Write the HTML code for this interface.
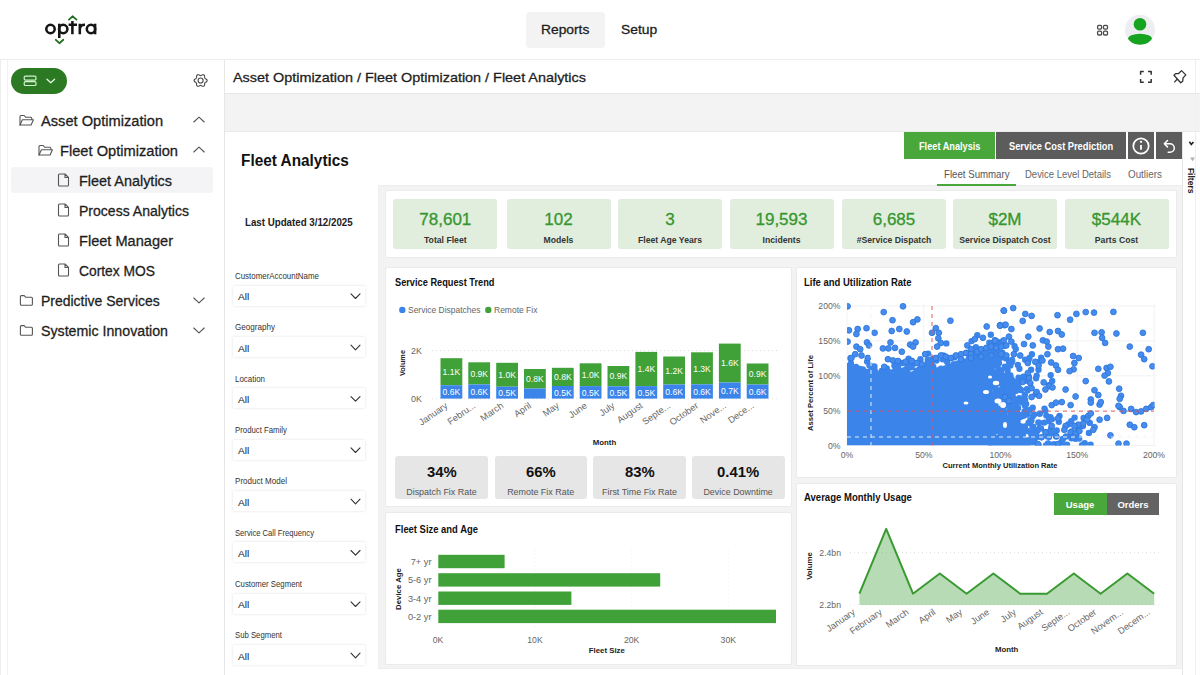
<!DOCTYPE html>
<html lang="en"><head><meta charset="utf-8"><title>Optra - Fleet Analytics</title>
<style>
*{box-sizing:border-box;margin:0;padding:0}
html,body{width:1200px;height:675px;overflow:hidden;background:#fff}
body{position:relative;font-family:"Liberation Sans",sans-serif;color:#222}
.t{position:absolute;white-space:nowrap;display:block}
.abs{position:absolute}
svg{position:absolute;left:0;top:0;overflow:visible}
svg text{font-family:"Liberation Sans",sans-serif}
.kpi{position:absolute;top:198.5px;height:50.5px;background:#e1eede;border-radius:3px}
.gk{position:absolute;top:456.2px;height:43.3px;background:#e6e6e6;border-radius:3px}
.card{position:absolute;background:#fff;border:1px solid #ebebeb;border-radius:2px}
.dd{position:absolute;left:233px;width:132px;height:20px;background:#fff;box-shadow:0 0 2.5px rgba(0,0,0,.13)}
</style></head><body>

<header class="abs" style="left:0;top:0;width:1200px;height:60px;background:#fff;border-bottom:1px solid #ececec;box-shadow:0 0 2px rgba(0,0,0,.07)"></header>
<div class="abs" style="left:0;top:60px;width:8px;height:615px;background:#fff;border-left:1px solid #ededed;border-right:1px solid #f2f2f2"></div>
<nav class="abs" style="left:8px;top:60px;width:217px;height:615px;background:#fff;border-right:1px solid #e6e6e6"></nav>
<div class="abs" style="left:225px;top:60px;width:975px;height:34px;background:#fff;border-bottom:1px solid #e8e8e8"></div>
<div class="abs" style="left:225px;top:94px;width:975px;height:38px;background:#f3f3f3;border-bottom:1px solid #e9e9e9"></div>
<main class="abs" style="left:225px;top:132px;width:957px;height:543px;background:#fff"></main>
<aside class="abs" style="left:1181.5px;top:132px;width:18.5px;height:543px;background:#fff;border-left:1px solid #e6e6e6"></aside>
<div class="abs" style="left:1195px;top:60px;width:1px;height:615px;background:#efefef"></div>
<div class="abs" style="left:377.5px;top:184.5px;width:804.5px;height:484px;background:#f3f3f3;border-top:1px solid #ededed;border-left:1px solid #efefef;border-bottom:1px solid #efefef"></div>
<section class="card" style="left:384.5px;top:189.5px;width:792px;height:68px"></section>
<section class="card" style="left:385px;top:266.5px;width:407px;height:240px"></section>
<section class="card" style="left:385px;top:512px;width:407px;height:152.500px"></section>
<section class="card" style="left:795.5px;top:266.5px;width:381px;height:211.500px"></section>
<section class="card" style="left:795.5px;top:483px;width:381px;height:182.500px"></section>
<div class="abs" style="left:526px;top:12px;width:79px;height:36px;background:#f3f3f3;border-radius:4px"></div>
<span class="t" style="left:541.30px;top:17px;font-size:13.27px;line-height:25px;color:#1c1c1c;transform:scaleX(1.0396);transform-origin:left top;-webkit-text-stroke:.28px currentColor;">Reports</span>
<span class="t" style="left:621.00px;top:17px;font-size:13.27px;line-height:25px;color:#1c1c1c;transform:scaleX(1.0440);transform-origin:left top;-webkit-text-stroke:.28px currentColor;">Setup</span>
<div class="abs" style="left:11px;top:68px;width:56px;height:25.5px;background:#2b7a23;border-radius:13px"></div>
<div class="abs" style="left:11px;top:167px;width:202px;height:26px;background:#f4f4f6;border-radius:3px"></div>
<span class="t" style="left:41.00px;top:109px;font-size:13.97px;line-height:24px;color:#1e1e1e;transform:scaleX(1.0478);transform-origin:left top;-webkit-text-stroke:.28px currentColor;">Asset Optimization</span>
<span class="t" style="left:60.00px;top:139px;font-size:13.97px;line-height:24px;color:#1e1e1e;transform:scaleX(1.0484);transform-origin:left top;-webkit-text-stroke:.28px currentColor;">Fleet Optimization</span>
<span class="t" style="left:79.00px;top:169px;font-size:13.97px;line-height:24px;color:#1e1e1e;transform:scaleX(1.0328);transform-origin:left top;-webkit-text-stroke:.28px currentColor;">Fleet Analytics</span>
<span class="t" style="left:79.00px;top:199px;font-size:13.97px;line-height:24px;color:#1e1e1e;transform:scaleX(1.0050);transform-origin:left top;-webkit-text-stroke:.28px currentColor;">Process Analytics</span>
<span class="t" style="left:79.00px;top:229px;font-size:13.97px;line-height:24px;color:#1e1e1e;transform:scaleX(1.0438);transform-origin:left top;-webkit-text-stroke:.28px currentColor;">Fleet Manager</span>
<span class="t" style="left:79.00px;top:259px;font-size:13.97px;line-height:24px;color:#1e1e1e;transform:scaleX(0.9892);transform-origin:left top;-webkit-text-stroke:.28px currentColor;">Cortex MOS</span>
<span class="t" style="left:41.00px;top:289px;font-size:13.97px;line-height:24px;color:#1e1e1e;-webkit-text-stroke:.28px currentColor;">Predictive Services</span>
<span class="t" style="left:41.00px;top:319px;font-size:13.97px;line-height:24px;color:#1e1e1e;transform:scaleX(1.0161);transform-origin:left top;-webkit-text-stroke:.28px currentColor;">Systemic Innovation</span>
<span class="t" style="left:233.00px;top:65px;font-size:13.41px;line-height:25px;color:#1e1e1e;transform:scaleX(1.0742);transform-origin:left top;-webkit-text-stroke:.28px currentColor;">Asset Optimization / Fleet Optimization / Fleet Analytics</span>
<span class="t" style="left:241.00px;top:148px;font-size:15.78px;line-height:25px;color:#111;font-weight:700;transform:scaleX(0.9747);transform-origin:left top;">Fleet Analytics</span>
<span class="t" style="left:245.30px;top:210px;font-size:10.20px;line-height:25px;color:#222;font-weight:700;transform:scaleX(0.9550);transform-origin:left top;">Last Updated 3/12/2025</span>
<div class="abs" style="left:904px;top:132.3px;width:91.2px;height:26.7px;background:#49a73c"></div>
<div class="abs" style="left:996.3px;top:132.3px;width:129.6px;height:26.7px;background:#5c5c5c"></div>
<div class="abs" style="left:1127.5px;top:132.3px;width:26.4px;height:26.7px;background:#5c5c5c"></div>
<div class="abs" style="left:1155.5px;top:132.3px;width:26px;height:26.7px;background:#5c5c5c"></div>
<span class="t" style="left:919.00px;top:134px;font-size:10.06px;line-height:25px;color:#fff;font-weight:700;transform:scaleX(0.9144);transform-origin:left top;">Fleet Analysis</span>
<span class="t" style="left:1009.00px;top:134px;font-size:10.06px;line-height:25px;color:#fff;font-weight:700;transform:scaleX(0.9239);transform-origin:left top;">Service Cost Prediction</span>
<span class="t" style="left:943.70px;top:162px;font-size:10.34px;line-height:25px;color:#555;transform:scaleX(0.9362);transform-origin:left top;">Fleet Summary</span>
<span class="t" style="left:1025.00px;top:162px;font-size:10.34px;line-height:25px;color:#666;transform:scaleX(0.9185);transform-origin:left top;">Device Level Details</span>
<span class="t" style="left:1127.70px;top:162px;font-size:10.34px;line-height:25px;color:#666;transform:scaleX(0.9520);transform-origin:left top;">Outliers</span>
<div class="abs" style="left:937px;top:184px;width:79px;height:2px;background:#4aa63c"></div>
<span class="t" style="left:235.00px;top:264px;font-size:8.52px;line-height:24px;color:#333;transform:scaleX(0.9288);transform-origin:left top;">CustomerAccountName</span>
<div class="dd" style="top:285.6px"></div>
<span class="t" style="left:237.70px;top:284px;font-size:9.78px;line-height:25px;color:#222;transform:scaleX(1.0400);transform-origin:left top;">All</span>
<span class="t" style="left:235.00px;top:315px;font-size:8.52px;line-height:24px;color:#333;transform:scaleX(0.9489);transform-origin:left top;">Geography</span>
<div class="dd" style="top:336.9px"></div>
<span class="t" style="left:237.70px;top:336px;font-size:9.78px;line-height:25px;color:#222;transform:scaleX(1.0400);transform-origin:left top;">All</span>
<span class="t" style="left:235.00px;top:367px;font-size:8.52px;line-height:24px;color:#333;transform:scaleX(0.9314);transform-origin:left top;">Location</span>
<div class="dd" style="top:388.3px"></div>
<span class="t" style="left:237.70px;top:387px;font-size:9.78px;line-height:25px;color:#222;transform:scaleX(1.0400);transform-origin:left top;">All</span>
<span class="t" style="left:235.00px;top:418px;font-size:8.52px;line-height:24px;color:#333;transform:scaleX(0.9153);transform-origin:left top;">Product Family</span>
<div class="dd" style="top:439.6px"></div>
<span class="t" style="left:237.70px;top:438px;font-size:9.78px;line-height:25px;color:#222;transform:scaleX(1.0400);transform-origin:left top;">All</span>
<span class="t" style="left:235.00px;top:469px;font-size:8.52px;line-height:24px;color:#333;transform:scaleX(0.9466);transform-origin:left top;">Product Model</span>
<div class="dd" style="top:490.9px"></div>
<span class="t" style="left:237.70px;top:490px;font-size:9.78px;line-height:25px;color:#222;transform:scaleX(1.0400);transform-origin:left top;">All</span>
<span class="t" style="left:235.00px;top:521px;font-size:8.52px;line-height:24px;color:#333;transform:scaleX(0.8970);transform-origin:left top;">Service Call Frequency</span>
<div class="dd" style="top:542.2px"></div>
<span class="t" style="left:237.70px;top:541px;font-size:9.78px;line-height:25px;color:#222;transform:scaleX(1.0400);transform-origin:left top;">All</span>
<span class="t" style="left:235.00px;top:572px;font-size:8.52px;line-height:24px;color:#333;transform:scaleX(0.9129);transform-origin:left top;">Customer Segment</span>
<div class="dd" style="top:593.6px"></div>
<span class="t" style="left:237.70px;top:592px;font-size:9.78px;line-height:25px;color:#222;transform:scaleX(1.0400);transform-origin:left top;">All</span>
<span class="t" style="left:235.00px;top:623px;font-size:8.52px;line-height:24px;color:#333;transform:scaleX(0.9104);transform-origin:left top;">Sub Segment</span>
<div class="dd" style="top:644.9px"></div>
<span class="t" style="left:237.70px;top:644px;font-size:9.78px;line-height:25px;color:#222;transform:scaleX(1.0400);transform-origin:left top;">All</span>
<div class="kpi" style="left:393.3px;width:104px"></div>
<span class="t" style="left:419.24px;top:207px;font-size:17.04px;line-height:25px;color:#37962f;-webkit-text-stroke:.3px #37962f;">78,601</span>
<span class="t" style="left:423.97px;top:228px;font-size:8.66px;line-height:24px;color:#333;font-weight:700;">Total Fleet</span>
<div class="kpi" style="left:506.5px;width:104px"></div>
<span class="t" style="left:544.28px;top:207px;font-size:17.04px;line-height:25px;color:#37962f;-webkit-text-stroke:.3px #37962f;">102</span>
<span class="t" style="left:543.58px;top:228px;font-size:8.66px;line-height:24px;color:#333;font-weight:700;">Models</span>
<div class="kpi" style="left:618px;width:104px"></div>
<span class="t" style="left:665.26px;top:207px;font-size:17.04px;line-height:25px;color:#37962f;-webkit-text-stroke:.3px #37962f;">3</span>
<span class="t" style="left:637.99px;top:228px;font-size:8.66px;line-height:24px;color:#333;font-weight:700;">Fleet Age Years</span>
<div class="kpi" style="left:729.5px;width:104px"></div>
<span class="t" style="left:755.44px;top:207px;font-size:17.04px;line-height:25px;color:#37962f;-webkit-text-stroke:.3px #37962f;">19,593</span>
<span class="t" style="left:762.49px;top:228px;font-size:8.66px;line-height:24px;color:#333;font-weight:700;">Incidents</span>
<div class="kpi" style="left:842px;width:104px"></div>
<span class="t" style="left:872.68px;top:207px;font-size:17.04px;line-height:25px;color:#37962f;-webkit-text-stroke:.3px #37962f;">6,685</span>
<span class="t" style="left:856.70px;top:228px;font-size:8.66px;line-height:24px;color:#333;font-weight:700;">#Service Dispatch</span>
<div class="kpi" style="left:953px;width:104px"></div>
<span class="t" style="left:988.43px;top:207px;font-size:17.04px;line-height:25px;color:#37962f;-webkit-text-stroke:.3px #37962f;">$2M</span>
<span class="t" style="left:959.28px;top:228px;font-size:8.66px;line-height:24px;color:#333;font-weight:700;">Service Dispatch Cost</span>
<div class="kpi" style="left:1064.5px;width:104px"></div>
<span class="t" style="left:1091.86px;top:207px;font-size:17.04px;line-height:25px;color:#37962f;-webkit-text-stroke:.3px #37962f;">$544K</span>
<span class="t" style="left:1094.84px;top:228px;font-size:8.66px;line-height:24px;color:#333;font-weight:700;">Parts Cost</span>
<span class="t" style="left:395.00px;top:270px;font-size:10.34px;line-height:25px;color:#111;font-weight:700;transform:scaleX(0.8929);transform-origin:left top;">Service Request Trend</span>
<span class="t" style="left:408.00px;top:297px;font-size:9.78px;line-height:25px;color:#666;transform:scaleX(0.8664);transform-origin:left top;">Service Dispatches</span>
<span class="t" style="left:494.00px;top:297px;font-size:9.78px;line-height:25px;color:#666;transform:scaleX(0.8703);transform-origin:left top;">Remote Fix</span>
<div class="gk" style="left:395.3px;width:92.5px"></div>
<span class="t" style="left:426.65px;top:460px;font-size:13.97px;line-height:24px;color:#111;font-weight:700;transform:scaleX(1.0625);transform-origin:left top;">34%</span>
<span class="t" style="left:406.23px;top:480px;font-size:8.94px;line-height:24px;color:#555;">Dispatch Fix Rate</span>
<div class="gk" style="left:494.5px;width:92.5px"></div>
<span class="t" style="left:525.85px;top:460px;font-size:13.97px;line-height:24px;color:#111;font-weight:700;transform:scaleX(1.0625);transform-origin:left top;">66%</span>
<span class="t" style="left:507.17px;top:480px;font-size:8.94px;line-height:24px;color:#555;">Remote Fix Rate</span>
<div class="gk" style="left:593.3px;width:92.5px"></div>
<span class="t" style="left:624.65px;top:460px;font-size:13.97px;line-height:24px;color:#111;font-weight:700;transform:scaleX(1.0625);transform-origin:left top;">83%</span>
<span class="t" style="left:602.00px;top:480px;font-size:8.94px;line-height:24px;color:#555;">First Time Fix Rate</span>
<div class="gk" style="left:692px;width:92.5px"></div>
<span class="t" style="left:717.16px;top:460px;font-size:13.97px;line-height:24px;color:#111;font-weight:700;transform:scaleX(1.0625);transform-origin:left top;">0.41%</span>
<span class="t" style="left:703.43px;top:480px;font-size:8.94px;line-height:24px;color:#555;">Device Downtime</span>
<span class="t" style="left:395.00px;top:517px;font-size:10.34px;line-height:25px;color:#111;font-weight:700;transform:scaleX(0.9127);transform-origin:left top;">Fleet Size and Age</span>
<span class="t" style="left:803.70px;top:270px;font-size:10.34px;line-height:25px;color:#111;font-weight:700;transform:scaleX(0.9185);transform-origin:left top;">Life and Utilization Rate</span>
<span class="t" style="left:803.70px;top:485px;font-size:10.34px;line-height:25px;color:#111;font-weight:700;transform:scaleX(0.9239);transform-origin:left top;">Average Monthly Usage</span>
<div class="abs" style="left:1054px;top:493px;width:53px;height:22px;background:#49a73c"></div>
<div class="abs" style="left:1107px;top:493px;width:52px;height:22px;background:#636363"></div>
<span class="t" style="left:1065.75px;top:492px;font-size:9.50px;line-height:25px;color:#fff;font-weight:700;">Usage</span>
<span class="t" style="left:1117.43px;top:492px;font-size:9.50px;line-height:25px;color:#fff;font-weight:700;">Orders</span>
<svg width="1200" height="675" viewBox="0 0 1200 675">
<line x1="432" x2="779" y1="350.6" y2="350.6" stroke="#d8d8d8" stroke-width="1" stroke-dasharray="1 3"/>
<line x1="432" x2="779" y1="398.8" y2="398.8" stroke="#e4e4e4" stroke-width="1" stroke-dasharray="1 3"/>
<rect x="440.5" y="358.2" width="21.8" height="27.0" fill="#41a139"/>
<rect x="440.5" y="385.2" width="21.8" height="13.4" fill="#3b85ea"/>
<text x="451.4" y="374.9" font-size="8.94" fill="#fff" text-anchor="middle" textLength="17.6" lengthAdjust="spacingAndGlyphs">1.1K</text>
<text x="451.4" y="395.3" font-size="8.94" fill="#fff" text-anchor="middle" textLength="17.6" lengthAdjust="spacingAndGlyphs">0.6K</text>
<text x="448.4" y="407.0" font-size="9.22" fill="#666" text-anchor="end" transform="rotate(-35 448.4 407.0)">January</text>
<rect x="468.3" y="362.3" width="21.8" height="22.1" fill="#41a139"/>
<rect x="468.3" y="384.4" width="21.8" height="14.2" fill="#3b85ea"/>
<text x="479.2" y="376.6" font-size="8.94" fill="#fff" text-anchor="middle" textLength="17.6" lengthAdjust="spacingAndGlyphs">0.9K</text>
<text x="479.2" y="394.9" font-size="8.94" fill="#fff" text-anchor="middle" textLength="17.6" lengthAdjust="spacingAndGlyphs">0.6K</text>
<text x="476.2" y="407.0" font-size="9.22" fill="#666" text-anchor="end" transform="rotate(-35 476.2 407.0)">Febru...</text>
<rect x="496.2" y="362.8" width="21.8" height="23.9" fill="#41a139"/>
<rect x="496.2" y="386.7" width="21.8" height="11.9" fill="#3b85ea"/>
<text x="507.1" y="377.9" font-size="8.94" fill="#fff" text-anchor="middle" textLength="17.6" lengthAdjust="spacingAndGlyphs">1.0K</text>
<text x="507.1" y="396.0" font-size="8.94" fill="#fff" text-anchor="middle" textLength="17.6" lengthAdjust="spacingAndGlyphs">0.5K</text>
<text x="504.1" y="407.0" font-size="9.22" fill="#666" text-anchor="end" transform="rotate(-35 504.1 407.0)">March</text>
<rect x="524.0" y="369" width="21.8" height="19.5" fill="#41a139"/>
<rect x="524.0" y="388.5" width="21.8" height="10.1" fill="#3b85ea"/>
<text x="534.9" y="381.9" font-size="8.94" fill="#fff" text-anchor="middle" textLength="17.6" lengthAdjust="spacingAndGlyphs">0.8K</text>
<text x="531.9" y="407.0" font-size="9.22" fill="#666" text-anchor="end" transform="rotate(-35 531.9 407.0)">April</text>
<rect x="551.9" y="367.8" width="21.8" height="18.2" fill="#41a139"/>
<rect x="551.9" y="386" width="21.8" height="12.6" fill="#3b85ea"/>
<text x="562.8" y="380.1" font-size="8.94" fill="#fff" text-anchor="middle" textLength="17.6" lengthAdjust="spacingAndGlyphs">0.8K</text>
<text x="562.8" y="395.7" font-size="8.94" fill="#fff" text-anchor="middle" textLength="17.6" lengthAdjust="spacingAndGlyphs">0.5K</text>
<text x="559.8" y="407.0" font-size="9.22" fill="#666" text-anchor="end" transform="rotate(-35 559.8 407.0)">May</text>
<rect x="579.7" y="363.3" width="21.8" height="22.8" fill="#41a139"/>
<rect x="579.7" y="386.1" width="21.8" height="12.5" fill="#3b85ea"/>
<text x="590.6" y="377.9" font-size="8.94" fill="#fff" text-anchor="middle" textLength="17.6" lengthAdjust="spacingAndGlyphs">1.0K</text>
<text x="590.6" y="395.8" font-size="8.94" fill="#fff" text-anchor="middle" textLength="17.6" lengthAdjust="spacingAndGlyphs">0.5K</text>
<text x="587.6" y="407.0" font-size="9.22" fill="#666" text-anchor="end" transform="rotate(-35 587.6 407.0)">June</text>
<rect x="607.5" y="366" width="21.8" height="20.3" fill="#41a139"/>
<rect x="607.5" y="386.3" width="21.8" height="12.3" fill="#3b85ea"/>
<text x="618.4" y="379.3" font-size="8.94" fill="#fff" text-anchor="middle" textLength="17.6" lengthAdjust="spacingAndGlyphs">0.9K</text>
<text x="618.4" y="395.9" font-size="8.94" fill="#fff" text-anchor="middle" textLength="17.6" lengthAdjust="spacingAndGlyphs">0.5K</text>
<text x="615.4" y="407.0" font-size="9.22" fill="#666" text-anchor="end" transform="rotate(-35 615.4 407.0)">July</text>
<rect x="635.4" y="351.9" width="21.8" height="34.2" fill="#41a139"/>
<rect x="635.4" y="386.1" width="21.8" height="12.5" fill="#3b85ea"/>
<text x="646.3" y="372.2" font-size="8.94" fill="#fff" text-anchor="middle" textLength="17.6" lengthAdjust="spacingAndGlyphs">1.4K</text>
<text x="646.3" y="395.8" font-size="8.94" fill="#fff" text-anchor="middle" textLength="17.6" lengthAdjust="spacingAndGlyphs">0.5K</text>
<text x="643.3" y="407.0" font-size="9.22" fill="#666" text-anchor="end" transform="rotate(-35 643.3 407.0)">August</text>
<rect x="663.2" y="356.5" width="21.8" height="28.0" fill="#41a139"/>
<rect x="663.2" y="384.5" width="21.8" height="14.1" fill="#3b85ea"/>
<text x="674.1" y="373.7" font-size="8.94" fill="#fff" text-anchor="middle" textLength="17.6" lengthAdjust="spacingAndGlyphs">1.2K</text>
<text x="674.1" y="394.9" font-size="8.94" fill="#fff" text-anchor="middle" textLength="17.6" lengthAdjust="spacingAndGlyphs">0.6K</text>
<text x="671.1" y="407.0" font-size="9.22" fill="#666" text-anchor="end" transform="rotate(-35 671.1 407.0)">Septe...</text>
<rect x="691.1" y="352.3" width="21.8" height="32.0" fill="#41a139"/>
<rect x="691.1" y="384.3" width="21.8" height="14.3" fill="#3b85ea"/>
<text x="702.0" y="371.5" font-size="8.94" fill="#fff" text-anchor="middle" textLength="17.6" lengthAdjust="spacingAndGlyphs">1.3K</text>
<text x="702.0" y="394.9" font-size="8.94" fill="#fff" text-anchor="middle" textLength="17.6" lengthAdjust="spacingAndGlyphs">0.6K</text>
<text x="699.0" y="407.0" font-size="9.22" fill="#666" text-anchor="end" transform="rotate(-35 699.0 407.0)">October</text>
<rect x="718.9" y="343.6" width="21.8" height="38.9" fill="#41a139"/>
<rect x="718.9" y="382.5" width="21.8" height="16.1" fill="#3b85ea"/>
<text x="729.8" y="366.2" font-size="8.94" fill="#fff" text-anchor="middle" textLength="17.6" lengthAdjust="spacingAndGlyphs">1.6K</text>
<text x="729.8" y="393.9" font-size="8.94" fill="#fff" text-anchor="middle" textLength="17.6" lengthAdjust="spacingAndGlyphs">0.7K</text>
<text x="726.8" y="407.0" font-size="9.22" fill="#666" text-anchor="end" transform="rotate(-35 726.8 407.0)">Nove...</text>
<rect x="746.7" y="363.5" width="21.8" height="21.0" fill="#41a139"/>
<rect x="746.7" y="384.5" width="21.8" height="14.1" fill="#3b85ea"/>
<text x="757.6" y="377.2" font-size="8.94" fill="#fff" text-anchor="middle" textLength="17.6" lengthAdjust="spacingAndGlyphs">0.9K</text>
<text x="757.6" y="394.9" font-size="8.94" fill="#fff" text-anchor="middle" textLength="17.6" lengthAdjust="spacingAndGlyphs">0.6K</text>
<text x="754.6" y="407.0" font-size="9.22" fill="#666" text-anchor="end" transform="rotate(-35 754.6 407.0)">Dece...</text>
<text x="422.0" y="354.0" font-size="8.94" fill="#666" text-anchor="end">2K</text>
<text x="422.0" y="402.3" font-size="8.94" fill="#666" text-anchor="end">0K</text>
<text x="405.0" y="363.0" font-size="8.10" fill="#222" text-anchor="middle" textLength="26.0" lengthAdjust="spacingAndGlyphs" transform="rotate(-90 405.0 363.0)" font-weight="700">Volume</text>
<text x="604.5" y="445.0" font-size="7.82" fill="#222" text-anchor="middle" font-weight="700">Month</text>
<circle cx="402.3" cy="309.9" r="3.2" fill="#3b85ea"/><circle cx="488.3" cy="309.9" r="3.2" fill="#41a139"/>
<line x1="535" x2="535" y1="550" y2="628" stroke="#eeeeee" stroke-width="1" stroke-dasharray="1 3"/>
<line x1="631.7" x2="631.7" y1="550" y2="628" stroke="#eeeeee" stroke-width="1" stroke-dasharray="1 3"/>
<line x1="728.3" x2="728.3" y1="550" y2="628" stroke="#eeeeee" stroke-width="1" stroke-dasharray="1 3"/>
<rect x="438.3" y="554.8" width="66.3" height="13.4" fill="#41a139"/>
<text x="431.5" y="564.8" font-size="9.22" fill="#666" text-anchor="end">7+ yr</text>
<rect x="438.3" y="573.2" width="221.9" height="13.4" fill="#41a139"/>
<text x="431.5" y="583.2" font-size="9.22" fill="#666" text-anchor="end">5-6 yr</text>
<rect x="438.3" y="591.5" width="133.1" height="13.4" fill="#41a139"/>
<text x="431.5" y="601.5" font-size="9.22" fill="#666" text-anchor="end">3-4 yr</text>
<rect x="438.3" y="609.7" width="337.7" height="13.4" fill="#41a139"/>
<text x="431.5" y="619.7" font-size="9.22" fill="#666" text-anchor="end">0-2 yr</text>
<text x="438.0" y="642.8" font-size="8.66" fill="#666" text-anchor="middle">0K</text>
<text x="535.0" y="642.8" font-size="8.66" fill="#666" text-anchor="middle">10K</text>
<text x="631.7" y="642.8" font-size="8.66" fill="#666" text-anchor="middle">20K</text>
<text x="728.3" y="642.8" font-size="8.66" fill="#666" text-anchor="middle">30K</text>
<text x="606.8" y="652.5" font-size="7.82" fill="#222" text-anchor="middle" font-weight="700">Fleet Size</text>
<text x="400.5" y="589.0" font-size="7.82" fill="#222" text-anchor="middle" transform="rotate(-90 400.5 589.0)" font-weight="700">Device Age</text>
</svg>
<svg width="1200" height="675" viewBox="0 0 1200 675"><defs><clipPath id="pc"><rect x="847" y="300" width="307.600" height="145.500"/></clipPath></defs>
<line x1="847" x2="1156" y1="445.5" y2="445.5" stroke="#f2f2f2" stroke-width="1"/>
<line x1="847" x2="1156" y1="410.6" y2="410.6" stroke="#f2f2f2" stroke-width="1"/>
<line x1="847" x2="1156" y1="375.8" y2="375.8" stroke="#f2f2f2" stroke-width="1"/>
<line x1="847" x2="1156" y1="340.9" y2="340.9" stroke="#f2f2f2" stroke-width="1"/>
<line x1="847" x2="1156" y1="306.0" y2="306.0" stroke="#f2f2f2" stroke-width="1"/>
<line x1="847.0" x2="847.0" y1="304" y2="445.5" stroke="#f2f2f2" stroke-width="1"/>
<line x1="923.8" x2="923.8" y1="304" y2="445.5" stroke="#f2f2f2" stroke-width="1"/>
<line x1="1000.5" x2="1000.5" y1="304" y2="445.5" stroke="#f2f2f2" stroke-width="1"/>
<line x1="1077.2" x2="1077.2" y1="304" y2="445.5" stroke="#f2f2f2" stroke-width="1"/>
<line x1="1154.0" x2="1154.0" y1="304" y2="445.5" stroke="#f2f2f2" stroke-width="1"/>
<g clip-path="url(#pc)">
<path d="M847 445.5V369L872 372 900 373 931 369 950 364 970 357 985 352 992 360 992 445.5Z" fill="#3b85ea"/>
<path d="M896.7 374.1h0M946.9 370.6h0M929.3 372.5h0M855.9 371.1h0M852.8 371.9h0M857.7 374.5h0M912.2 365.3h0M866.0 373.6h0M943.3 355.5h0M935.6 371.1h0M996.9 357.6h0M978.8 360.7h0M869.1 374.4h0M894.4 365.6h0M874.7 370.2h0M945.1 368.9h0M931.1 374.7h0M856.1 373.8h0M951.4 366.7h0M895.2 370.1h0M916.6 373.1h0M968.9 358.5h0M884.5 370.3h0M927.6 363.4h0M959.0 365.9h0M997.5 357.0h0M911.2 367.2h0M870.3 371.3h0M853.0 368.9h0M964.4 361.7h0M981.4 359.8h0M953.7 364.2h0M936.0 370.4h0M975.9 347.2h0M919.8 369.0h0M856.3 368.3h0M946.3 343.4h0M973.2 362.2h0M906.2 368.9h0M850.5 371.6h0M872.8 374.4h0M856.0 366.9h0M866.9 373.5h0M907.0 363.6h0M859.4 371.7h0M931.3 363.1h0M972.8 353.1h0M889.7 372.1h0M902.1 363.0h0M994.0 357.7h0M874.0 373.6h0M882.8 371.4h0M937.4 371.8h0M847.6 372.0h0M903.7 370.4h0M993.3 352.3h0M926.1 369.7h0M950.8 369.7h0M985.1 352.5h0M981.2 353.1h0M907.2 372.2h0M862.9 369.4h0M856.6 374.7h0M879.0 374.1h0M899.2 374.8h0M847.0 374.1h0M862.6 372.5h0M850.9 363.5h0M941.3 371.6h0M885.7 372.7h0M902.9 374.3h0M977.3 335.2h0M918.5 371.4h0M860.2 374.5h0M899.6 373.3h0M974.2 362.8h0M850.5 358.2h0M928.1 374.2h0M930.4 374.9h0M928.1 353.6h0M979.5 355.8h0M887.1 372.5h0M872.6 366.8h0M928.8 366.6h0M897.6 373.6h0M971.6 341.1h0M977.9 353.7h0M972.6 356.7h0M881.8 371.0h0M901.6 374.9h0M851.3 373.2h0M886.8 368.5h0M993.8 355.4h0M990.8 334.8h0M993.6 356.2h0M880.8 373.6h0M877.2 373.8h0M942.8 359.2h0M976.0 359.7h0M947.2 361.9h0M860.0 369.0h0M986.7 352.0h0M962.1 363.4h0M874.4 366.4h0M898.0 366.0h0M996.1 355.2h0M908.6 358.7h0M958.3 367.0h0M866.5 374.1h0M985.9 351.6h0M869.4 365.3h0M997.5 351.7h0M900.8 370.6h0M867.1 375.0h0M996.0 352.2h0M927.8 359.9h0M913.6 363.6h0M973.8 362.6h0M885.7 373.1h0M883.9 370.1h0M886.8 372.0h0M867.1 361.6h0M901.3 371.6h0M936.5 360.6h0M911.6 361.1h0M924.0 370.8h0M927.4 374.9h0M914.6 373.9h0M847.6 366.1h0M873.5 371.5h0M958.3 363.5h0M897.0 371.0h0M932.3 366.3h0M863.3 370.5h0M885.1 373.2h0M965.5 362.1h0M933.2 366.6h0M987.1 357.2h0M941.0 368.6h0M925.6 368.5h0M916.4 370.8h0M920.4 359.2h0M954.3 357.4h0M991.6 357.6h0M932.9 358.7h0M975.9 362.5h0M865.7 371.8h0M858.1 373.5h0M858.2 368.9h0M967.3 352.9h0M1011.6 379.2h0M1013.4 398.1h0M1014.7 444.2h0M997.6 395.4h0M992.0 434.5h0M1008.6 405.0h0M989.0 350.1h0M1003.0 389.1h0M991.7 441.0h0M999.0 376.1h0M997.2 347.9h0M992.8 363.5h0M1032.7 440.2h0M1014.0 413.7h0M989.8 393.8h0M1001.9 423.9h0M1000.2 441.6h0M998.0 427.5h0M1008.8 396.7h0M991.1 422.7h0M992.3 444.4h0M991.7 428.7h0M1021.1 399.4h0M1026.1 403.9h0M1018.1 408.0h0M1012.0 360.0h0M990.9 406.8h0M993.2 434.4h0M995.4 439.8h0M989.4 431.3h0M1008.2 438.6h0M998.4 423.5h0M1006.9 418.4h0M1003.8 421.4h0M990.6 416.7h0M1010.0 396.4h0M1008.3 396.2h0M989.2 407.4h0M999.5 442.3h0M1010.2 424.4h0M991.4 369.2h0M994.3 442.1h0M1025.2 359.7h0M993.1 433.5h0M1035.7 394.1h0M1012.2 360.7h0M1028.8 376.7h0M989.0 434.1h0M994.7 411.4h0M1027.4 390.4h0M1018.6 383.0h0M990.3 363.9h0M988.4 369.5h0M988.8 370.7h0M988.4 421.2h0M992.8 397.3h0M1006.2 384.0h0M1004.2 389.4h0M997.4 420.8h0M988.9 377.9h0M1002.1 418.6h0M1024.8 394.9h0M991.0 343.4h0M992.7 401.1h0M990.1 361.4h0M1016.2 420.9h0M993.9 426.6h0M1000.8 394.1h0M1001.5 353.8h0M1016.4 424.6h0M990.4 397.6h0M988.6 402.0h0M992.8 413.2h0M1001.8 416.0h0M989.0 369.2h0M989.5 359.2h0M1029.0 410.2h0M1001.3 437.0h0M1006.7 421.1h0M997.5 345.9h0M1011.7 362.3h0M988.8 419.1h0M1011.8 417.9h0M992.4 421.7h0M1000.5 390.5h0M1003.4 425.7h0M994.4 423.8h0M997.8 421.9h0M1011.3 394.1h0M993.1 420.0h0M989.0 420.6h0M988.5 402.5h0M1014.6 346.2h0M994.8 373.8h0M989.1 399.6h0M988.6 408.2h0M988.5 349.3h0M1033.9 432.1h0M1027.2 380.7h0M1003.2 401.3h0M990.6 350.1h0M1001.8 434.6h0M1005.8 422.5h0M992.3 439.9h0M1000.3 394.1h0M1001.1 417.5h0M1052.2 381.0h0M1004.3 399.3h0M990.1 345.4h0M1018.6 377.7h0M992.4 422.0h0M1039.8 413.8h0M996.3 425.6h0M1017.4 428.9h0M997.3 378.7h0M1002.1 408.0h0M992.9 426.4h0M1002.5 441.5h0M990.6 440.8h0M1031.9 354.2h0M1028.0 443.1h0M989.2 419.7h0M989.9 412.4h0M991.9 411.8h0M1009.3 403.9h0M1024.8 443.3h0M990.3 369.6h0M1007.3 420.5h0M1002.4 384.0h0M991.4 416.0h0M990.3 382.1h0M991.2 345.8h0M1015.8 349.1h0M1001.2 370.5h0M993.3 414.8h0M1023.5 415.7h0M996.5 440.3h0M1020.6 415.0h0M998.4 396.9h0M994.1 373.7h0M1006.2 405.5h0M994.5 377.7h0M988.9 378.8h0M998.5 423.2h0M1019.1 388.2h0M1032.7 407.7h0M993.8 380.0h0M995.8 418.3h0M1007.2 421.7h0M1001.6 410.6h0M1000.7 433.3h0M993.9 385.9h0M1007.4 380.2h0M989.4 414.9h0M992.0 377.2h0M997.2 427.4h0M1009.3 391.3h0M1003.8 438.0h0M1005.1 356.4h0M1009.4 411.1h0M989.0 352.1h0M990.9 404.8h0M1000.1 383.4h0M1009.5 432.9h0M1011.2 427.9h0M1044.5 408.6h0M992.3 406.8h0M1006.2 358.4h0M995.7 407.3h0M1004.9 394.8h0M998.2 423.0h0M997.2 372.1h0M1015.0 382.9h0M1007.5 405.2h0M1022.4 402.4h0M1005.4 443.8h0M1007.3 367.7h0M989.5 401.2h0M1000.9 436.5h0M999.3 371.1h0M996.9 396.3h0M988.8 409.6h0M1001.7 357.2h0M992.5 371.3h0M1003.9 345.9h0M1000.9 396.5h0M1003.8 421.4h0M996.8 396.0h0M991.2 429.4h0M994.7 431.4h0M1024.6 411.5h0M995.3 388.0h0M997.3 341.7h0M996.5 407.9h0M994.3 342.0h0M1007.8 388.3h0M1016.6 402.9h0M996.7 381.5h0M999.9 445.4h0M1008.9 395.3h0M991.4 445.3h0M992.8 412.0h0M1007.5 425.3h0M1003.4 387.0h0M998.6 399.4h0M995.1 381.7h0M997.7 355.6h0M1004.9 444.7h0M1000.0 380.9h0M1010.6 380.8h0M997.5 348.1h0M988.8 442.1h0M988.9 366.0h0M997.2 444.7h0M1007.7 385.0h0M989.9 416.7h0M990.8 353.5h0M996.0 365.6h0M1038.5 369.8h0M990.2 401.8h0M990.1 424.5h0M1000.4 442.6h0M1010.4 375.4h0M1006.2 381.2h0M992.2 421.7h0M992.0 347.2h0M1031.1 369.7h0M997.4 351.5h0M1005.2 375.6h0M1025.1 400.0h0M1050.7 375.1h0M1026.9 389.1h0M1004.3 426.5h0M995.5 443.5h0M1001.3 375.2h0M1009.1 361.7h0M1001.6 440.2h0M1037.7 362.3h0M999.1 382.4h0M991.0 437.4h0M999.8 444.0h0M1013.1 422.1h0M1005.1 357.8h0M1014.6 403.5h0M993.4 412.9h0M997.3 426.1h0M995.0 445.4h0M1002.7 427.5h0M993.7 445.2h0M993.0 397.3h0M1004.2 412.8h0M1005.9 426.2h0M1000.8 381.8h0M988.4 438.9h0M997.7 365.1h0M1027.4 411.9h0M995.3 427.1h0M992.9 396.6h0M1019.4 368.8h0M996.0 412.7h0M995.2 358.8h0M1005.1 400.8h0M1002.7 428.5h0M1000.9 417.5h0M1002.8 432.1h0M1002.9 431.5h0M1016.3 414.8h0M989.8 345.2h0M1000.2 437.0h0M995.2 443.0h0M1013.1 407.4h0M988.3 385.4h0M997.6 366.6h0M1041.1 357.7h0M1009.9 382.8h0M994.7 405.3h0M996.6 382.6h0M1028.6 422.7h0M1007.6 377.6h0M1013.8 408.5h0M1000.5 394.6h0M1049.0 437.1h0M994.6 381.5h0M1005.2 376.6h0M994.0 408.1h0M989.3 342.7h0M1001.5 412.0h0M995.5 405.4h0M1007.6 370.2h0M991.3 426.5h0M1021.0 390.0h0M1012.0 381.6h0M993.7 361.8h0M1009.6 391.5h0M992.6 359.8h0M988.9 417.5h0M1015.6 381.8h0M991.8 411.2h0M1034.4 441.0h0M1010.4 365.4h0M991.3 444.7h0M991.6 346.4h0M999.2 437.1h0M1004.7 433.2h0M992.9 412.9h0M1033.1 432.3h0M1015.3 384.9h0M1036.0 378.3h0M1000.0 427.9h0M1036.7 375.6h0M989.6 354.3h0M1016.2 390.7h0M989.6 397.4h0M1002.4 440.9h0M1002.5 397.6h0M991.2 396.9h0M1038.6 445.1h0M1001.0 389.9h0M1013.6 409.9h0M1031.3 439.4h0M1023.4 376.8h0M994.6 414.6h0M1019.2 398.3h0M991.8 443.0h0M995.5 413.7h0M1032.4 426.6h0M995.4 390.9h0M1007.5 396.3h0M992.4 343.7h0M1018.9 379.9h0M999.3 417.8h0M1008.1 387.3h0M1018.5 442.5h0M989.1 428.7h0M991.0 349.9h0M1017.9 364.9h0M1012.3 384.0h0M999.8 376.9h0M1021.4 426.5h0M989.2 429.5h0M1000.2 442.7h0M997.1 379.7h0M1045.3 410.6h0M1006.9 417.5h0M995.9 415.8h0M1004.0 389.4h0M991.4 350.2h0M992.4 408.7h0M989.7 386.7h0M990.9 445.2h0M992.0 376.6h0M990.0 441.6h0M1004.9 366.6h0M1014.2 438.6h0M1021.5 400.9h0M989.9 372.9h0M1016.3 439.0h0M1027.3 431.0h0M1011.5 388.6h0M997.4 377.4h0M1016.8 411.2h0M1025.0 405.4h0M1003.7 440.7h0M1028.4 360.6h0M994.8 343.5h0M1006.3 404.3h0M1001.5 409.8h0M1002.3 352.8h0M990.5 387.3h0M1029.5 357.9h0M1008.9 438.5h0M1000.6 427.6h0M988.3 424.3h0M1048.7 385.1h0M1005.6 422.3h0M992.1 364.6h0M999.0 362.9h0M991.0 424.4h0M1014.9 387.0h0M994.1 374.7h0M1003.6 411.2h0M1012.6 394.8h0M998.7 442.1h0M1013.5 436.6h0M988.7 431.9h0M1007.9 394.6h0M1002.0 444.0h0M1003.6 414.5h0M1072.3 435.2h0M1071.2 421.3h0M1023.9 445.1h0M1051.8 419.3h0M1059.5 415.9h0M1004.1 440.2h0M1083.6 417.9h0M1004.8 422.5h0M1013.8 423.7h0M1062.8 439.0h0M1024.2 443.4h0M1016.0 440.6h0M1062.9 445.4h0M1018.5 445.1h0M1020.8 416.8h0M1009.4 417.0h0M1076.3 433.5h0M1014.8 439.7h0M1031.3 442.4h0M1090.6 444.7h0M1062.0 441.3h0M1026.9 440.1h0M1034.1 414.5h0M1083.0 444.7h0M1000.7 420.8h0M1017.6 434.9h0M1017.1 423.1h0M1019.5 428.9h0M1006.6 424.6h0M1067.0 444.8h0M1031.4 420.4h0M1045.9 445.4h0M1017.6 420.8h0M1015.6 436.8h0M1000.9 432.1h0M1048.0 443.5h0M1066.0 436.5h0M1006.1 419.2h0M1046.1 432.3h0M1050.0 445.3h0M1009.4 425.8h0M1002.1 429.4h0M1011.8 433.0h0M1026.3 443.5h0M1013.1 429.6h0M1014.1 430.3h0M1015.6 421.0h0M1036.3 435.3h0M1048.9 436.1h0M1031.4 434.8h0M1074.6 417.6h0M1039.4 428.2h0M1049.4 444.5h0M1089.8 422.9h0M1058.8 421.7h0M1082.0 445.1h0M1025.0 426.5h0M1050.4 417.2h0M1023.6 432.1h0M1060.1 443.5h0M1011.9 443.3h0M1008.6 431.2h0M1056.7 430.4h0M1019.0 425.4h0M1051.0 428.9h0M1029.1 440.5h0M1047.7 436.5h0M1001.6 437.4h0M1022.5 430.8h0M1026.7 414.6h0M1036.2 434.7h0M1010.6 441.0h0M1033.0 426.7h0M1068.5 424.2h0M1044.3 422.6h0M1084.7 443.3h0M1000.9 423.3h0M1046.4 415.6h0M1039.0 422.6h0M1056.4 436.6h0M1036.5 430.9h0M1030.2 422.5h0M1028.5 443.0h0M1054.1 444.2h0M1030.3 420.3h0M1052.5 432.8h0M1071.7 431.5h0M1048.2 432.2h0M1036.4 437.3h0M1032.8 416.2h0M1048.9 443.9h0M1037.4 430.7h0M1041.0 428.5h0M1032.1 431.7h0M1016.2 438.4h0M1082.9 426.1h0M1014.9 439.2h0M1038.4 422.5h0M1078.1 429.8h0M1018.6 432.8h0M1025.0 427.7h0M1011.7 442.7h0M1010.3 443.9h0M1048.6 421.1h0M1071.5 438.3h0M1033.1 442.4h0M1009.7 418.0h0M1032.6 434.4h0M1005.5 418.5h0M1023.5 445.0h0M1079.2 438.5h0M1075.6 438.8h0M1088.9 432.9h0M1022.9 436.3h0M1020.9 438.7h0" stroke="#3b85ea" stroke-width="6.4" stroke-linecap="round" fill="none"/>
<g fill="#468cee" stroke="#2f77dc" stroke-width=".9"><circle cx="1003.9" cy="310.6" r="2.9"/><circle cx="1013.2" cy="308.1" r="2.9"/><circle cx="1025.3" cy="313.9" r="2.9"/><circle cx="1031.6" cy="315.9" r="2.9"/><circle cx="1022.7" cy="320.9" r="2.9"/><circle cx="1057.5" cy="315.2" r="2.9"/><circle cx="1076.4" cy="313.9" r="2.9"/><circle cx="1085.7" cy="312.1" r="2.9"/><circle cx="1094.0" cy="312.6" r="2.9"/><circle cx="1113.4" cy="311.9" r="2.9"/><circle cx="1070.1" cy="319.7" r="2.9"/><circle cx="1000.1" cy="325.2" r="2.9"/><circle cx="1004.6" cy="325.2" r="2.9"/><circle cx="1011.4" cy="329.0" r="2.9"/><circle cx="1039.6" cy="328.5" r="2.9"/><circle cx="1049.7" cy="332.0" r="2.9"/><circle cx="1058.0" cy="331.0" r="2.9"/><circle cx="1061.8" cy="334.5" r="2.9"/><circle cx="1094.5" cy="332.8" r="2.9"/><circle cx="1101.6" cy="332.3" r="2.9"/><circle cx="1102.1" cy="337.8" r="2.9"/><circle cx="1105.1" cy="342.9" r="2.9"/><circle cx="1116.4" cy="333.5" r="2.9"/><circle cx="1142.9" cy="332.8" r="2.9"/><circle cx="995.0" cy="340.3" r="2.9"/><circle cx="1002.6" cy="341.6" r="2.9"/><circle cx="1008.9" cy="336.6" r="2.9"/><circle cx="1011.4" cy="341.6" r="2.9"/><circle cx="1024.0" cy="344.1" r="2.9"/><circle cx="1028.3" cy="336.6" r="2.9"/><circle cx="1032.8" cy="345.4" r="2.9"/><circle cx="1042.9" cy="340.3" r="2.9"/><circle cx="1046.7" cy="341.6" r="2.9"/><circle cx="1048.4" cy="346.6" r="2.9"/><circle cx="1058.0" cy="349.2" r="2.9"/><circle cx="1063.0" cy="348.7" r="2.9"/><circle cx="1047.4" cy="354.2" r="2.9"/><circle cx="1129.8" cy="346.6" r="2.9"/><circle cx="1148.7" cy="349.2" r="2.9"/><circle cx="1141.1" cy="354.7" r="2.9"/><circle cx="1144.2" cy="359.2" r="2.9"/><circle cx="1073.1" cy="356.0" r="2.9"/><circle cx="1078.7" cy="358.0" r="2.9"/><circle cx="1074.4" cy="363.0" r="2.9"/><circle cx="1073.6" cy="369.3" r="2.9"/><circle cx="1069.6" cy="371.1" r="2.9"/><circle cx="1051.2" cy="362.5" r="2.9"/><circle cx="1056.0" cy="365.5" r="2.9"/><circle cx="1058.0" cy="369.8" r="2.9"/><circle cx="1035.3" cy="361.8" r="2.9"/><circle cx="1042.4" cy="360.5" r="2.9"/><circle cx="1038.6" cy="365.5" r="2.9"/><circle cx="1027.8" cy="363.0" r="2.9"/><circle cx="1020.2" cy="355.5" r="2.9"/><circle cx="1013.9" cy="354.2" r="2.9"/><circle cx="1152.5" cy="366.3" r="2.9"/><circle cx="1098.3" cy="368.8" r="2.9"/><circle cx="1106.6" cy="368.0" r="2.9"/><circle cx="1110.4" cy="366.8" r="2.9"/><circle cx="1107.9" cy="373.1" r="2.9"/><circle cx="1104.6" cy="375.6" r="2.9"/><circle cx="1085.7" cy="381.1" r="2.9"/><circle cx="1108.9" cy="381.4" r="2.9"/><circle cx="1119.2" cy="388.7" r="2.9"/><circle cx="1027.8" cy="373.1" r="2.9"/><circle cx="1029.0" cy="378.1" r="2.9"/><circle cx="1022.7" cy="381.9" r="2.9"/><circle cx="1030.3" cy="383.2" r="2.9"/><circle cx="1031.6" cy="388.2" r="2.9"/><circle cx="1043.7" cy="382.4" r="2.9"/><circle cx="1049.2" cy="386.2" r="2.9"/><circle cx="1045.4" cy="389.5" r="2.9"/><circle cx="1052.5" cy="387.4" r="2.9"/><circle cx="1065.6" cy="389.5" r="2.9"/><circle cx="1075.6" cy="396.5" r="2.9"/><circle cx="1094.5" cy="390.2" r="2.9"/><circle cx="1098.3" cy="395.0" r="2.9"/><circle cx="1090.8" cy="399.5" r="2.9"/><circle cx="1121.0" cy="395.8" r="2.9"/><circle cx="1119.7" cy="398.8" r="2.9"/><circle cx="1036.6" cy="392.0" r="2.9"/><circle cx="1039.1" cy="395.8" r="2.9"/><circle cx="1031.6" cy="397.0" r="2.9"/><circle cx="1005.1" cy="397.0" r="2.9"/><circle cx="1008.9" cy="400.8" r="2.9"/><circle cx="1051.7" cy="405.1" r="2.9"/><circle cx="1056.0" cy="402.6" r="2.9"/><circle cx="1061.8" cy="402.1" r="2.9"/><circle cx="1070.6" cy="405.1" r="2.9"/><circle cx="1090.8" cy="402.6" r="2.9"/><circle cx="1099.6" cy="404.6" r="2.9"/><circle cx="1100.8" cy="402.1" r="2.9"/><circle cx="1119.7" cy="407.1" r="2.9"/><circle cx="1123.5" cy="410.9" r="2.9"/><circle cx="1131.1" cy="408.9" r="2.9"/><circle cx="1136.1" cy="412.1" r="2.9"/><circle cx="1141.1" cy="411.4" r="2.9"/><circle cx="1146.2" cy="408.9" r="2.9"/><circle cx="1151.2" cy="407.1" r="2.9"/><circle cx="1153.2" cy="405.1" r="2.9"/><circle cx="1118.5" cy="405.8" r="2.9"/><circle cx="1107.1" cy="417.9" r="2.9"/><circle cx="1099.6" cy="419.7" r="2.9"/><circle cx="1094.5" cy="427.2" r="2.9"/><circle cx="1093.3" cy="429.8" r="2.9"/><circle cx="1129.8" cy="424.7" r="2.9"/><circle cx="1134.3" cy="427.2" r="2.9"/><circle cx="1144.2" cy="425.2" r="2.9"/><circle cx="1110.4" cy="435.3" r="2.9"/><circle cx="1118.5" cy="443.6" r="2.9"/><circle cx="1126.5" cy="443.6" r="2.9"/><circle cx="1088.2" cy="415.9" r="2.9"/><circle cx="1090.8" cy="413.4" r="2.9"/><circle cx="1087.0" cy="419.7" r="2.9"/><circle cx="1083.2" cy="423.5" r="2.9"/><circle cx="1078.2" cy="424.7" r="2.9"/><circle cx="1074.4" cy="426.0" r="2.9"/><circle cx="1065.6" cy="426.0" r="2.9"/><circle cx="1064.3" cy="429.8" r="2.9"/><circle cx="1070.6" cy="432.3" r="2.9"/><circle cx="1075.6" cy="433.5" r="2.9"/><circle cx="1073.1" cy="437.3" r="2.9"/><circle cx="1079.4" cy="431.0" r="2.9"/><circle cx="1058.0" cy="418.4" r="2.9"/><circle cx="1051.7" cy="426.0" r="2.9"/><circle cx="1056.0" cy="436.1" r="2.9"/><circle cx="1058.0" cy="444.1" r="2.9"/><circle cx="1037.9" cy="444.1" r="2.9"/><circle cx="1041.6" cy="437.3" r="2.9"/><circle cx="1045.4" cy="432.3" r="2.9"/><circle cx="847.6" cy="306.3" r="2.9"/><circle cx="903.0" cy="306.3" r="2.9"/><circle cx="883.7" cy="312.1" r="2.9"/><circle cx="892.5" cy="320.2" r="2.9"/><circle cx="917.4" cy="319.4" r="2.9"/><circle cx="913.1" cy="322.2" r="2.9"/><circle cx="950.4" cy="320.7" r="2.9"/><circle cx="866.5" cy="328.2" r="2.9"/><circle cx="857.7" cy="329.0" r="2.9"/><circle cx="848.9" cy="330.3" r="2.9"/><circle cx="874.6" cy="332.8" r="2.9"/><circle cx="891.7" cy="331.0" r="2.9"/><circle cx="899.3" cy="329.0" r="2.9"/><circle cx="906.8" cy="331.5" r="2.9"/><circle cx="856.4" cy="334.0" r="2.9"/><circle cx="847.6" cy="341.6" r="2.9"/><circle cx="867.0" cy="342.4" r="2.9"/><circle cx="869.0" cy="345.4" r="2.9"/><circle cx="890.5" cy="342.4" r="2.9"/><circle cx="882.9" cy="348.4" r="2.9"/><circle cx="888.4" cy="348.4" r="2.9"/><circle cx="895.0" cy="347.9" r="2.9"/><circle cx="910.1" cy="344.6" r="2.9"/><circle cx="915.6" cy="342.4" r="2.9"/><circle cx="913.1" cy="346.6" r="2.9"/><circle cx="901.8" cy="351.7" r="2.9"/><circle cx="856.4" cy="346.6" r="2.9"/><circle cx="860.2" cy="349.2" r="2.9"/><circle cx="925.2" cy="354.2" r="2.9"/><circle cx="935.8" cy="328.2" r="2.9"/><circle cx="932.0" cy="332.8" r="2.9"/><circle cx="938.8" cy="332.8" r="2.9"/><circle cx="938.3" cy="338.3" r="2.9"/><circle cx="940.8" cy="342.9" r="2.9"/><circle cx="937.1" cy="346.6" r="2.9"/><circle cx="1003.8" cy="310.6" r="2.9"/><circle cx="986.7" cy="326.5" r="2.9"/><circle cx="1000.0" cy="325.7" r="2.9"/><circle cx="1005.6" cy="324.7" r="2.9"/><circle cx="974.8" cy="339.1" r="2.9"/><circle cx="982.9" cy="337.8" r="2.9"/><circle cx="995.0" cy="340.8" r="2.9"/><circle cx="1003.8" cy="340.3" r="2.9"/><circle cx="967.3" cy="345.4" r="2.9"/><circle cx="971.1" cy="349.2" r="2.9"/><circle cx="855.2" cy="354.2" r="2.9"/><circle cx="861.5" cy="355.5" r="2.9"/><circle cx="867.8" cy="358.0" r="2.9"/><circle cx="851.4" cy="358.0" r="2.9"/><circle cx="887.9" cy="359.2" r="2.9"/><circle cx="893.0" cy="360.5" r="2.9"/><circle cx="898.0" cy="361.0" r="2.9"/><circle cx="905.6" cy="361.8" r="2.9"/><circle cx="911.9" cy="361.0" r="2.9"/><circle cx="916.9" cy="363.0" r="2.9"/><circle cx="921.9" cy="364.3" r="2.9"/><circle cx="884.2" cy="366.8" r="2.9"/><circle cx="940.8" cy="355.5" r="2.9"/><circle cx="935.8" cy="358.0" r="2.9"/><circle cx="945.9" cy="356.7" r="2.9"/><circle cx="950.9" cy="358.0" r="2.9"/><circle cx="955.9" cy="355.5" r="2.9"/><circle cx="961.0" cy="354.2" r="2.9"/><circle cx="966.0" cy="352.9" r="2.9"/><circle cx="971.1" cy="354.2" r="2.9"/><circle cx="977.4" cy="351.7" r="2.9"/><circle cx="981.1" cy="349.2" r="2.9"/><circle cx="986.2" cy="347.9" r="2.9"/><circle cx="991.2" cy="346.6" r="2.9"/><circle cx="996.2" cy="347.9" r="2.9"/><circle cx="1001.3" cy="346.6" r="2.9"/><circle cx="1006.3" cy="345.4" r="2.9"/><circle cx="961.0" cy="359.2" r="2.9"/><circle cx="971.1" cy="358.0" r="2.9"/><circle cx="981.1" cy="356.7" r="2.9"/><circle cx="991.2" cy="355.5" r="2.9"/><circle cx="1001.3" cy="354.2" r="2.9"/><circle cx="1006.3" cy="355.5" r="2.9"/></g>
<ellipse cx="996" cy="383" rx="3.2" ry="2.2" fill="#fff"/>
<ellipse cx="986" cy="392" rx="3" ry="2" fill="#fff"/>
<ellipse cx="998" cy="401" rx="3.5" ry="2.5" fill="#fff"/>
<ellipse cx="1003" cy="405" rx="3" ry="3" fill="#fff"/>
<ellipse cx="966" cy="403" rx="2.5" ry="1.5" fill="#fff"/>
<ellipse cx="1005" cy="425" rx="2" ry="3" fill="#fff"/>
<ellipse cx="990" cy="377" rx="2" ry="1.5" fill="#fff"/>
</g>
<line x1="871" x2="871" y1="306" y2="445.5" stroke="#f4f4f8" stroke-opacity=".62" stroke-width="1.5" stroke-dasharray="4 4"/>
<line x1="847" x2="1154" y1="437" y2="437" stroke="#f4f4f8" stroke-opacity=".62" stroke-width="1.5" stroke-dasharray="4 4"/>
<line x1="932" x2="932" y1="306" y2="445.5" stroke="#dd5555" stroke-opacity=".6" stroke-width="1.6" stroke-dasharray="4 4"/>
<line x1="847" x2="1154" y1="411.2" y2="411.2" stroke="#dd5555" stroke-opacity=".6" stroke-width="1.6" stroke-dasharray="4 4"/>
<text x="840.5" y="448.7" font-size="8.66" fill="#666" text-anchor="end">0%</text>
<text x="840.5" y="413.8" font-size="8.66" fill="#666" text-anchor="end">50%</text>
<text x="840.5" y="378.9" font-size="8.66" fill="#666" text-anchor="end">100%</text>
<text x="840.5" y="344.1" font-size="8.66" fill="#666" text-anchor="end">150%</text>
<text x="840.5" y="309.2" font-size="8.66" fill="#666" text-anchor="end">200%</text>
<text x="847.0" y="457.8" font-size="8.66" fill="#666" text-anchor="middle">0%</text>
<text x="923.8" y="457.8" font-size="8.66" fill="#666" text-anchor="middle">50%</text>
<text x="1000.5" y="457.8" font-size="8.66" fill="#666" text-anchor="middle">100%</text>
<text x="1077.2" y="457.8" font-size="8.66" fill="#666" text-anchor="middle">150%</text>
<text x="1154.0" y="457.8" font-size="8.66" fill="#666" text-anchor="middle">200%</text>
<text x="1000.0" y="468.0" font-size="7.82" fill="#222" text-anchor="middle" textLength="115.0" lengthAdjust="spacingAndGlyphs" font-weight="700">Current Monthly Utilization Rate</text>
<text x="812.5" y="393.0" font-size="7.82" fill="#222" text-anchor="middle" textLength="76.0" lengthAdjust="spacingAndGlyphs" transform="rotate(-90 812.5 393.0)" font-weight="700">Asset Percent of Life</text>
</svg>
<svg width="1200" height="675" viewBox="0 0 1200 675">
<line x1="850" x2="1160" y1="552.7" y2="552.7" stroke="#dcdcdc" stroke-width="1" stroke-dasharray="1 3"/>
<line x1="850" x2="1160" y1="605" y2="605" stroke="#e4e4e4" stroke-width="1" stroke-dasharray="1 3"/>
<path d="M859.4 593.7L886.2 528.8L913.0 593.7L939.8 573.5L966.6 593.7L993.4 573.5L1020.2 593.7L1047.0 593.7L1073.8 573.5L1100.6 593.7L1127.4 573.5L1154.2 593.7L1154.2 605L859.4 605Z" fill="#41a139" fill-opacity=".38"/>
<path d="M859.4 593.7L886.2 528.8L913.0 593.7L939.8 573.5L966.6 593.7L993.4 573.5L1020.2 593.7L1047.0 593.7L1073.8 573.5L1100.6 593.7L1127.4 573.5L1154.2 593.7" fill="none" stroke="#3a9a32" stroke-width="2" stroke-linejoin="round"/>
<text x="855.9" y="613.5" font-size="9.22" fill="#666" text-anchor="end" transform="rotate(-35 855.9 613.5)">January</text>
<text x="882.7" y="613.5" font-size="9.22" fill="#666" text-anchor="end" transform="rotate(-35 882.7 613.5)">February</text>
<text x="909.5" y="613.5" font-size="9.22" fill="#666" text-anchor="end" transform="rotate(-35 909.5 613.5)">March</text>
<text x="936.3" y="613.5" font-size="9.22" fill="#666" text-anchor="end" transform="rotate(-35 936.3 613.5)">April</text>
<text x="963.1" y="613.5" font-size="9.22" fill="#666" text-anchor="end" transform="rotate(-35 963.1 613.5)">May</text>
<text x="989.9" y="613.5" font-size="9.22" fill="#666" text-anchor="end" transform="rotate(-35 989.9 613.5)">June</text>
<text x="1016.7" y="613.5" font-size="9.22" fill="#666" text-anchor="end" transform="rotate(-35 1016.7 613.5)">July</text>
<text x="1043.5" y="613.5" font-size="9.22" fill="#666" text-anchor="end" transform="rotate(-35 1043.5 613.5)">August</text>
<text x="1070.3" y="613.5" font-size="9.22" fill="#666" text-anchor="end" transform="rotate(-35 1070.3 613.5)">Septe...</text>
<text x="1097.1" y="613.5" font-size="9.22" fill="#666" text-anchor="end" transform="rotate(-35 1097.1 613.5)">October</text>
<text x="1123.9" y="613.5" font-size="9.22" fill="#666" text-anchor="end" transform="rotate(-35 1123.9 613.5)">Novem...</text>
<text x="1150.7" y="613.5" font-size="9.22" fill="#666" text-anchor="end" transform="rotate(-35 1150.7 613.5)">Decem...</text>
<text x="841.0" y="556.0" font-size="8.66" fill="#666" text-anchor="end">2.4bn</text>
<text x="841.0" y="607.6" font-size="8.66" fill="#666" text-anchor="end">2.2bn</text>
<text x="811.5" y="566.0" font-size="7.82" fill="#222" text-anchor="middle" transform="rotate(-90 811.5 566.0)" font-weight="700">Volume</text>
<text x="1006.6" y="652.3" font-size="7.82" fill="#222" text-anchor="middle" font-weight="700">Month</text>
</svg>
<svg width="1200" height="675" viewBox="0 0 1200 675" fill="none" stroke-linecap="round" stroke-linejoin="round">
<g stroke="#151515" stroke-width="2.55" stroke-linecap="butt"><circle cx="50.5" cy="29" r="4.2"/><circle cx="63.2" cy="29" r="4.2"/><path d="M59.300 23.700V38"/><path d="M72.400 21V34.300M68.600 24.800H77"/><path d="M79.800 23.700V34.300M79.800 29.500c0-3.200 2-4.700 5.200-4.700"/><circle cx="91" cy="29" r="4.2"/><path d="M95.100 23.700V34.300"/></g>
<path d="M69 19.600L72.500 16.300L76.500 19.600" stroke="#1f6e1b" stroke-width="1.8"/>
<path d="M55.800 39.800L59.400 43.200L63.300 39.800" stroke="#1f6e1b" stroke-width="1.8"/>
<rect x="1097.6" y="25.3" width="4" height="3.900" rx="1.1" stroke="#4a4a4a" stroke-width="1.300"/>
<rect x="1103.5" y="25.3" width="4" height="3.900" rx="1.1" stroke="#4a4a4a" stroke-width="1.300"/>
<rect x="1097.6" y="31.1" width="4" height="3.900" rx="1.1" stroke="#4a4a4a" stroke-width="1.300"/>
<rect x="1103.5" y="31.1" width="4" height="3.900" rx="1.1" stroke="#4a4a4a" stroke-width="1.300"/>
<defs><clipPath id="av"><circle cx="1140" cy="29.800" r="15"/></clipPath></defs>
<circle cx="1140" cy="29.800" r="15" fill="#eeeef2" stroke="none"/>
<g clip-path="url(#av)" stroke="none" fill="#16a31f"><circle cx="1140" cy="24.300" r="6.300"/><ellipse cx="1140" cy="39.300" rx="12.100" ry="5.600"/></g>
<rect x="24.2" y="76.2" width="11.8" height="3.9" rx="1.3" stroke="#d4f2cf" stroke-width="1.2"/>
<rect x="24.2" y="81.6" width="11.8" height="3.9" rx="1.3" stroke="#d4f2cf" stroke-width="1.2"/>
<path d="M47 79.2L50.8 82.8L54.6 79.2" stroke="#e8f8e4" stroke-width="1.3"/>
<path d="M207.10 80.50L206.97 81.06L206.61 81.56L206.11 81.98L205.58 82.31L205.14 82.62L204.84 82.95L204.70 83.37L204.66 83.91L204.63 84.53L204.52 85.17L204.27 85.74L203.85 86.13L203.30 86.29L202.69 86.23L202.08 86.01L201.52 85.72L201.04 85.49L200.60 85.40L200.16 85.49L199.68 85.72L199.12 86.01L198.51 86.23L197.90 86.29L197.35 86.13L196.93 85.74L196.68 85.17L196.57 84.53L196.54 83.91L196.50 83.37L196.36 82.95L196.06 82.62L195.62 82.31L195.09 81.98L194.59 81.56L194.23 81.06L194.10 80.50L194.23 79.94L194.59 79.44L195.09 79.02L195.62 78.69L196.06 78.38L196.36 78.05L196.50 77.63L196.54 77.09L196.57 76.47L196.68 75.83L196.93 75.26L197.35 74.87L197.90 74.71L198.51 74.77L199.12 74.99L199.68 75.28L200.16 75.51L200.60 75.60L201.04 75.51L201.52 75.28L202.08 74.99L202.69 74.77L203.30 74.71L203.85 74.87L204.27 75.26L204.52 75.83L204.63 76.47L204.66 77.09L204.70 77.63L204.84 78.05L205.14 78.38L205.58 78.69L206.11 79.02L206.61 79.44L206.97 79.94Z" stroke="#4a4a4a" stroke-width="1.15" stroke-linejoin="round"/>
<circle cx="200.6" cy="80.5" r="2.5" stroke="#4a4a4a" stroke-width="1.15"/>
<path d="M20 125.0V116.5a1 1 0 0 1 1-1h3.2l1.6 1.8h5a1 1 0 0 1 1 1v1.2" stroke="#555" stroke-width="1.1"/><path d="M20 125.0l2.4-5.2h11l-2.300 5.200z" stroke="#555" stroke-width="1.1"/>
<path d="M39 155.0V146.5a1 1 0 0 1 1-1h3.2l1.6 1.8h5a1 1 0 0 1 1 1v1.2" stroke="#555" stroke-width="1.1"/><path d="M39 155.0l2.4-5.2h11l-2.300 5.200z" stroke="#555" stroke-width="1.1"/>
<path d="M59.5 174h5.500l3.500 3.500v7.500a1 1 0 0 1-1 1h-8a1 1 0 0 1-1-1v-10a1 1 0 0 1 1-1z M65.0 174v3.500h3.500" stroke="#555" stroke-width="1.1"/>
<path d="M59.5 204h5.500l3.500 3.500v7.500a1 1 0 0 1-1 1h-8a1 1 0 0 1-1-1v-10a1 1 0 0 1 1-1z M65.0 204v3.500h3.500" stroke="#555" stroke-width="1.1"/>
<path d="M59.5 234h5.500l3.500 3.500v7.500a1 1 0 0 1-1 1h-8a1 1 0 0 1-1-1v-10a1 1 0 0 1 1-1z M65.0 234v3.500h3.500" stroke="#555" stroke-width="1.1"/>
<path d="M59.5 264h5.500l3.500 3.500v7.500a1 1 0 0 1-1 1h-8a1 1 0 0 1-1-1v-10a1 1 0 0 1 1-1z M65.0 264v3.500h3.500" stroke="#555" stroke-width="1.1"/>
<path d="M20.4 304.3V296.6a1 1 0 0 1 1-1h2.800l1.500 1.700h5.700a1 1 0 0 1 1 1v6a1 1 0 0 1-1 1h-10a1 1 0 0 1-1-1z" stroke="#555" stroke-width="1.1"/>
<path d="M20.4 334.3V326.6a1 1 0 0 1 1-1h2.800l1.500 1.700h5.700a1 1 0 0 1 1 1v6a1 1 0 0 1-1 1h-10a1 1 0 0 1-1-1z" stroke="#555" stroke-width="1.1"/>
<path d="M193.800 122.0L199 117.1L204.200 122.0" stroke="#555" stroke-width="1.1"/>
<path d="M193.800 152.0L199 147.1L204.200 152.0" stroke="#555" stroke-width="1.1"/>
<path d="M193.800 298.0L199 302.9L204.200 298.0" stroke="#555" stroke-width="1.1"/>
<path d="M193.800 328.0L199 332.9L204.200 328.0" stroke="#555" stroke-width="1.1"/>
<path d="M1140.6 74.8v-3.2h3.2 M1147.9999999999998 71.6h3.2v3.2 M1151.1999999999998 78.99999999999999v3.2h-3.2 M1143.8 82.19999999999999h-3.2v-3.2" stroke="#333" stroke-width="1.5" stroke-linecap="butt"/>
<path d="M1181.500 70.600L1185.800 74.900L1183.100 77.900L1182.700 81.200L1180.700 82.700L1174 75.300L1175.600 73.600L1178.600 73.500Z M1177.300 79L1174.700 81.900" stroke="#333" stroke-width="1.3"/>
<circle cx="1141" cy="146" r="7.700" stroke="#fff" stroke-width="1.700"/>
<path d="M1141 145v4.800" stroke="#fff" stroke-width="1.800" stroke-linecap="butt"/><circle cx="1141" cy="141.800" r="1.150" fill="#fff" stroke="none"/>
<path d="M1167.500 140.500l-3.200 3.200 3.200 3.200 M1164.600 143.700h5.400a4.300 4.300 0 0 1 0 8.600h-1.800" stroke="#fff" stroke-width="1.5"/>
<path d="M1189.400 141.800L1191.300 144.500L1193.400 141.900" stroke="#222" stroke-width="1.600" stroke-linecap="butt" stroke-linejoin="miter"/>
<path d="M1190.100 157.400h4.800l-2.400 3.900z" fill="#b0b0b0" stroke="none"/>
<g stroke="none"><text x="1188.1" y="167.9" font-size="9.22" fill="#222" textLength="25.6" lengthAdjust="spacingAndGlyphs" transform="rotate(90 1188.1 167.9)" font-weight="700">Filters</text></g>
<path d="M351 293.9L355.500 298.5L360 293.9" stroke="#333" stroke-width="1.1"/>
<path d="M351 345.2L355.500 349.8L360 345.2" stroke="#333" stroke-width="1.1"/>
<path d="M351 396.6L355.500 401.2L360 396.6" stroke="#333" stroke-width="1.1"/>
<path d="M351 447.9L355.500 452.5L360 447.9" stroke="#333" stroke-width="1.1"/>
<path d="M351 499.2L355.500 503.8L360 499.2" stroke="#333" stroke-width="1.1"/>
<path d="M351 550.5L355.500 555.1L360 550.5" stroke="#333" stroke-width="1.1"/>
<path d="M351 601.9L355.500 606.5L360 601.9" stroke="#333" stroke-width="1.1"/>
<path d="M351 653.2L355.500 657.8L360 653.2" stroke="#333" stroke-width="1.1"/>
</svg>
</body></html>
